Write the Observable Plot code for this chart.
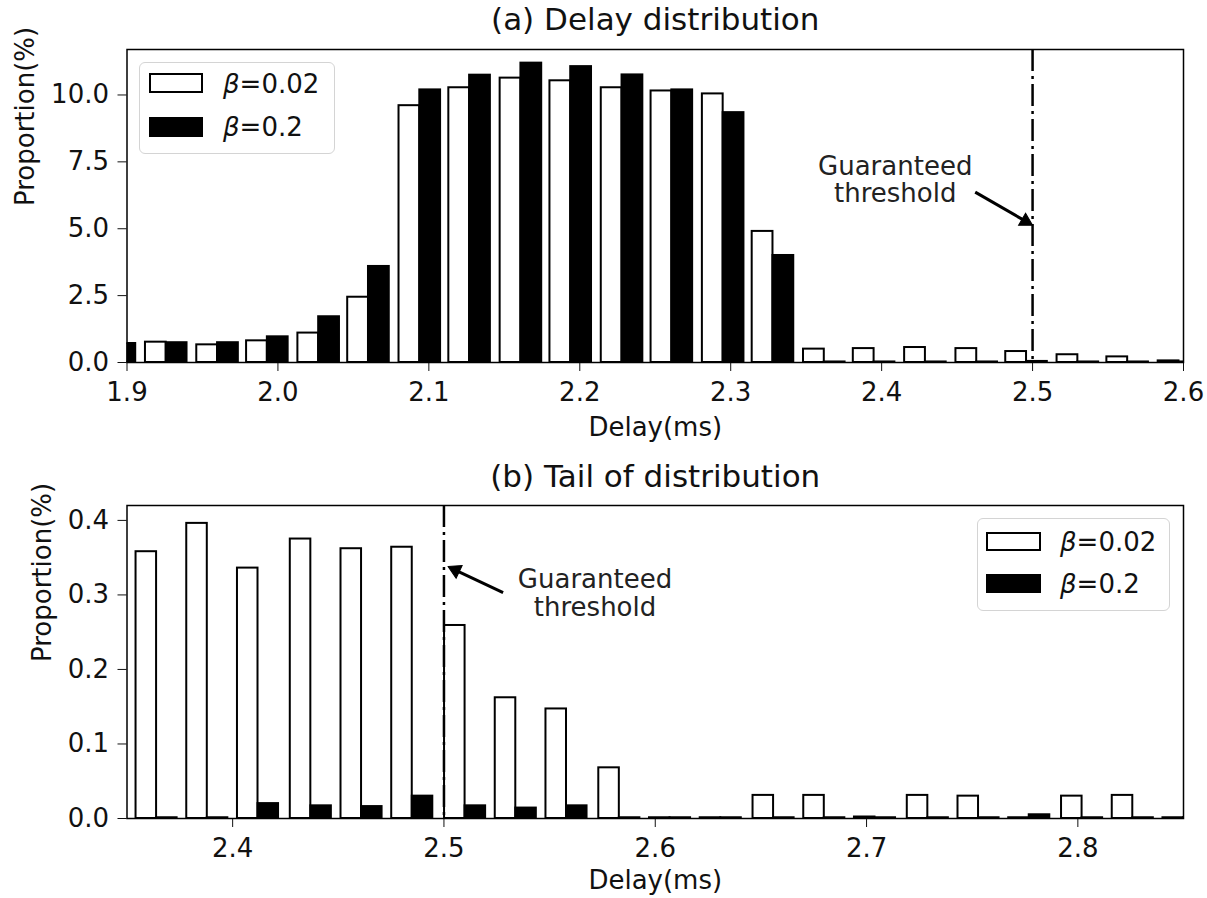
<!DOCTYPE html>
<html><head><meta charset="utf-8">
<script src="https://cdn.jsdelivr.net/npm/d3@7"></script>
<script src="https://cdn.jsdelivr.net/npm/@observablehq/plot@0.6"></script>
<style>
body{margin:0;background:#fff;font-family:"DejaVu Sans",sans-serif;}
#wrap{position:relative;width:1207px;height:898px;overflow:hidden;}
#wrap svg{display:block;}
.legend{position:absolute;border:1.5px solid #d4d4d4;border-radius:6px;background:rgba(255,255,255,0.8);box-sizing:border-box;}
.patch{position:absolute;box-sizing:border-box;border:2px solid #000;}
.ltext{position:absolute;font-size:26px;line-height:1;color:#111;white-space:nowrap;transform:translateY(-50%);}
</style></head>
<body><div id="wrap"></div>
<script>
// ---- data ----
const seriesNames = ["β=0.02", "β=0.2"];

// (a) Delay distribution: bin positions (ms) and proportions (%)
const delayA = [1.892, 1.926, 1.960, 1.993, 2.027, 2.060, 2.094, 2.127, 2.161, 2.194, 2.228,
                2.261, 2.295, 2.328, 2.362, 2.395, 2.429, 2.463, 2.496, 2.530, 2.563, 2.597];
const propA_b002 = [0.72, 0.76, 0.66, 0.81, 1.10, 2.44, 9.60, 10.27, 10.63, 10.53, 10.27,
                    10.15, 10.04, 4.90, 0.50, 0.52, 0.56, 0.52, 0.41, 0.29, 0.21, 0.06];
const propA_b02  = [0.71, 0.74, 0.74, 0.96, 1.71, 3.59, 10.19, 10.74, 11.19, 11.06, 10.75,
                    10.19, 9.34, 4.00, 0.02, 0.02, 0.02, 0.02, 0.04, 0.02, 0.02, 0.02];
const xTicksA = [1.9, 2.0, 2.1, 2.2, 2.3, 2.4, 2.5, 2.6];
const yTicksA = [0, 2.5, 5.0, 7.5, 10.0];

// (b) Tail of distribution
const delayB = [2.364, 2.388, 2.412, 2.437, 2.461, 2.485, 2.510, 2.534, 2.558, 2.583, 2.607,
                2.631, 2.656, 2.680, 2.704, 2.729, 2.753, 2.777, 2.802, 2.826, 2.850];
const propB_b002 = [0.358, 0.396, 0.336, 0.375, 0.362, 0.364, 0.259, 0.162, 0.147, 0.068, 0.001,
                    0.001, 0.031, 0.031, 0.002, 0.031, 0.030, 0.001, 0.030, 0.031, 0.001];
const propB_b02  = [0.001, 0.001, 0.020, 0.017, 0.016, 0.030, 0.017, 0.014, 0.017, 0.001, 0.001,
                    0.001, 0.001, 0.001, 0.001, 0.001, 0.001, 0.005, 0.001, 0.001, 0.001];
const xTicksB = [2.4, 2.5, 2.6, 2.7, 2.8];
const yTicksB = [0, 0.1, 0.2, 0.3, 0.4];

const threshold = 2.5;
const titles = ["(a) Delay distribution", "(b) Tail of distribution"];
const xLabel = "Delay(ms)";
const yLabel = "Proportion(%)";
const noteText = "Guaranteed\nthreshold";
const noteA = {x: 2.409, y: 6.82};
const arrowA = {x1: 2.462, y1: 6.37, x2: 2.5, y2: 5.13};
const noteB = {x: 2.5715, y: 0.303};
const arrowB = {x1: 2.528, y1: 0.303, x2: 2.502, y2: 0.338};

// ---- drawing ----
const W = 1207, ML = 126.5, MR = 24;
const barFrac = 0.405;
function bars(delays, a, b) {
  const w = (delays[1] - delays[0]) * barFrac;
  const white = delays.map((d, i) => ({x1: d - w, x2: d, v: a[i], s: seriesNames[0]}));
  const black = delays.map((d, i) => ({x1: d, x2: d + w, v: b[i], s: seriesNames[1]}));
  return {white, black};
}

// filled arrow head: compute direction in pixel space using the same linear mapping as the plot
function arrowParts(o) {
  const sx = d3.scaleLinear(o.xDomain, [ML, W - MR]);
  const sy = d3.scaleLinear(o.yDomain, [o.height - o.marginBottom, o.marginTop]);
  const a = o.arrow;
  const px1 = sx(a.x1), py1 = sy(a.y1), px2 = sx(a.x2), py2 = sy(a.y2);
  const dx = px2 - px1, dy = py2 - py1, len = Math.hypot(dx, dy);
  const ux = dx / len, uy = dy / len;
  const side = 14, cen = side / Math.sqrt(3);
  const head = {x: sx.invert(px2 - ux * cen), y: sy.invert(py2 - uy * cen),
                rotate: Math.atan2(dx, -dy) * 180 / Math.PI};
  const shaft = {x1: a.x1, y1: a.y1, x2: sx.invert(px2 - ux * cen * 1.2), y2: sy.invert(py2 - uy * cen * 1.2)};
  const r = Math.sqrt((Math.sqrt(3) / 4) * side * side / Math.PI);
  return {head, shaft, r};
}

function chart(o) {
  const {white, black} = bars(o.delays, o.a, o.b);
  const ap = arrowParts(o);
  return Plot.plot({
    width: W, height: o.height,
    marginLeft: ML, marginRight: MR, marginTop: o.marginTop, marginBottom: o.marginBottom,
    style: {fontFamily: "DejaVu Sans", fontSize: "26px", color: "#111", background: "#fff", overflow: "visible"},
    x: {domain: o.xDomain, ticks: o.xTicks, tickFormat: d3.format(".1f"), tickSize: 9, tickPadding: 11, label: null},
    y: {domain: o.yDomain, ticks: o.yTicks, tickFormat: d3.format(".1f"), tickSize: 9, tickPadding: 9, label: null},
    marks: [
      Plot.rect(white, {x1: "x1", x2: "x2", y1: 0, y2: "v", fill: "white", stroke: "black", strokeWidth: 2, clip: true}),
      Plot.rect(black, {x1: "x1", x2: "x2", y1: 0, y2: "v", fill: "black", stroke: "black", strokeWidth: 2, clip: true}),
      Plot.ruleX([threshold], {stroke: "black", strokeWidth: 2.5, strokeDasharray: "22,5,3,5"}),
      Plot.link([ap.shaft], {x1: "x1", y1: "y1", x2: "x2", y2: "y2", stroke: "black", strokeWidth: 3}),
      Plot.dot([ap.head], {x: "x", y: "y", symbol: "triangle", r: ap.r, rotate: ap.head.rotate, fill: "black", stroke: "black", strokeWidth: 1}),
      Plot.text([o.note], {x: "x", y: "y", text: () => noteText, fontSize: 26, lineHeight: o.lineHeight, fill: "#222"}),
      Plot.frame({stroke: "black", strokeWidth: 1.5}),
      Plot.text([o.title], {frameAnchor: "top", lineAnchor: "middle", dy: o.titleDy, text: d => d, fontSize: 31, fill: "#111"}),
      Plot.text([xLabel], {frameAnchor: "bottom", lineAnchor: "middle", dy: o.xLabelDy, text: d => d, fontSize: 26, fill: "#111"}),
      Plot.text([yLabel], {frameAnchor: "left", lineAnchor: "middle", dx: o.yLabelDx, rotate: -90, text: d => d, fontSize: 26, fill: "#111"})
    ]
  });
}

const wrap = document.getElementById("wrap");
wrap.appendChild(chart({
  delays: delayA, a: propA_b002, b: propA_b02,
  xDomain: [1.9, 2.6], yDomain: [0, 11.7], xTicks: xTicksA, yTicks: yTicksA,
  height: 450, marginTop: 49, marginBottom: 88,
  title: titles[0], titleDy: -29, xLabelDy: 65, yLabelDx: -101,
  note: noteA, arrow: arrowA, lineHeight: 1.05
}));
wrap.appendChild(chart({
  delays: delayB, a: propB_b002, b: propB_b02,
  xDomain: [2.35, 2.85], yDomain: [0, 0.42], xTicks: xTicksB, yTicks: yTicksB,
  height: 448, marginTop: 55, marginBottom: 80,
  title: titles[1], titleDy: -28, xLabelDy: 62, yLabelDx: -84,
  note: noteB, arrow: arrowB, lineHeight: 1.08
}));

function legend(box, patchLeft, patchW, patchH, rows, textLeft) {
  const lg = document.createElement("div");
  lg.className = "legend";
  Object.assign(lg.style, {left: box[0] + "px", top: box[1] + "px", width: box[2] + "px", height: box[3] + "px"});
  wrap.appendChild(lg);
  rows.forEach((r, i) => {
    const p = document.createElement("div");
    p.className = "patch";
    Object.assign(p.style, {left: patchLeft + "px", top: r.top + "px", width: patchW + "px", height: patchH + "px",
      background: i === 0 ? "#fff" : "#000"});
    wrap.appendChild(p);
    const t = document.createElement("div");
    t.className = "ltext";
    const name = seriesNames[i];
    t.innerHTML = "<i>" + name.slice(0, 1) + "</i>" + name.slice(1);
    Object.assign(t.style, {left: textLeft + "px", top: r.mid + "px"});
    wrap.appendChild(t);
  });
}
legend([139, 62, 196, 92], 149, 54, 20, [{top: 73, mid: 84}, {top: 117, mid: 127}], 223);
legend([977, 518, 193, 93], 986, 55, 19, [{top: 532, mid: 542}, {top: 574, mid: 584}], 1060);
</script>
</body></html>
